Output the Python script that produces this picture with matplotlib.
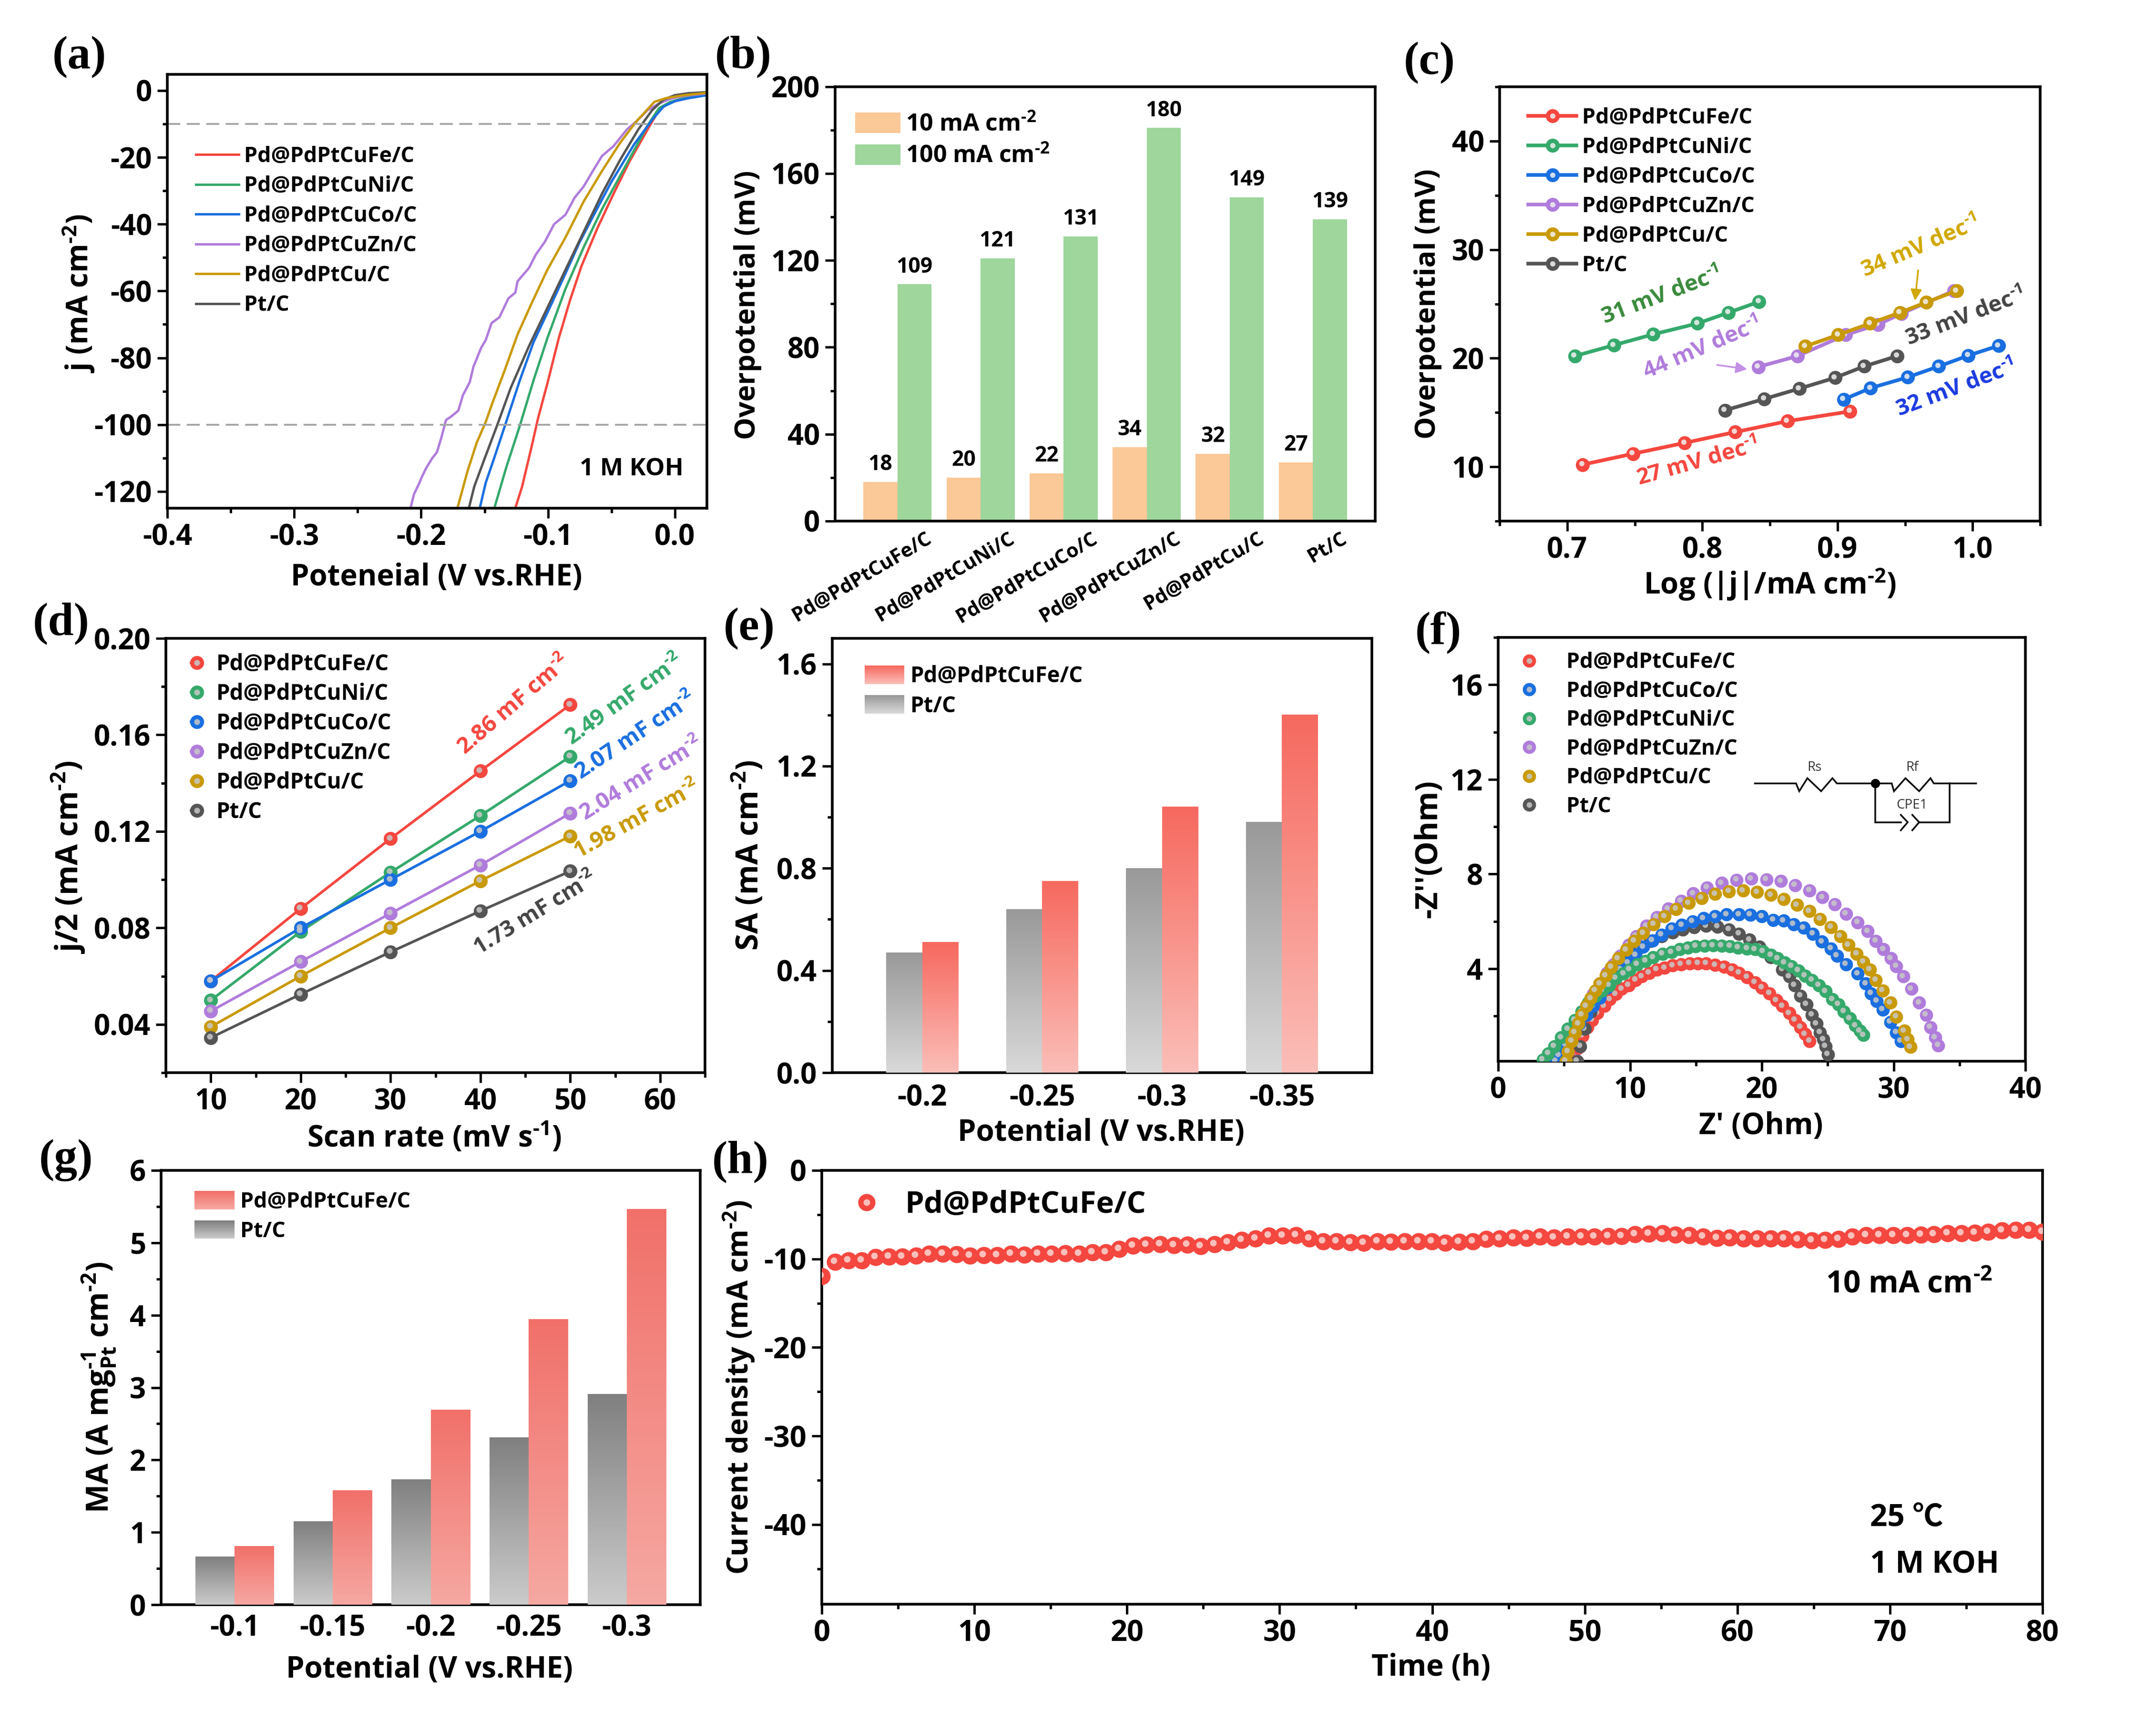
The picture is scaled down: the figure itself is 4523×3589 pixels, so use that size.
import numpy as np
import matplotlib
matplotlib.use('Agg')
import matplotlib.pyplot as plt
from matplotlib import font_manager
from matplotlib.colors import LinearSegmentedColormap, to_rgb
from matplotlib.legend_handler import HandlerBase, HandlerTuple
from matplotlib.patches import Patch, Rectangle
from matplotlib.ticker import MultipleLocator
from matplotlib.transforms import ScaledTranslation, offset_copy

# pick the first family that really ships a bold face
BOLD_FONT = 'Liberation Sans'
for name in ['Noto Sans CJK SC', 'Open Sans', 'Lato', 'Roboto', 'Inter', 'Liberation Sans']:
    if any(f.name == name and int(f.weight if str(f.weight).isdigit() else 700 if f.weight == 'bold' else 400) >= 700
           for f in font_manager.fontManager.ttflist):
        BOLD_FONT = name
        break

plt.rcParams['font.family'] = [BOLD_FONT, 'Noto Sans CJK SC', 'DejaVu Sans']
plt.rcParams['font.weight'] = 'bold'
plt.rcParams['mathtext.fontset'] = 'custom'
plt.rcParams['mathtext.rm'] = BOLD_FONT + ':bold'
plt.rcParams['mathtext.bf'] = BOLD_FONT + ':bold'
plt.rcParams['mathtext.it'] = BOLD_FONT + ':bold'
plt.rcParams['mathtext.default'] = 'rm'

W, H = 4523, 3589

# colours
RED = '#F4473F'
GREEN = '#35A96B'
BLUE = '#1A6FE0'
PURPLE = '#B07CDC'
GOLD = '#C99A08'
DARK = '#555555'

FE, NI, CO, ZN, CU, PT = ('Pd@PdPtCuFe/C', 'Pd@PdPtCuNi/C', 'Pd@PdPtCuCo/C',
                          'Pd@PdPtCuZn/C', 'Pd@PdPtCu/C', 'Pt/C')
SUP2 = r'$^{\text{-2}}$'
SUP1 = r'$^{\text{-1}}$'

# (a) LSV curves
a_fe_x = [-.1258, -.1204, -.1132, -.1078, -.1006, -.0916, -.0827, -.0737, -.0611, -.0485, -.0359, -.0198, -.0126, -.0054, .0072, .0252]
a_fe_y = [-125, -118.5, -107, -98, -87.8, -74.2, -62.8, -52.6, -41.2, -31, -21.3, -10.5, -5.9, -3.9, -2.3, -1.1]
a_ni_x = [-.1423, -.1330, -.1222, -.1114, -.1006, -.0863, -.0719, -.0575, -.0395, -.0216, -.0126, -.0036, .0072, .0252]
a_ni_y = [-125, -112.9, -100.3, -86.7, -74.2, -59.4, -46.9, -35.5, -23, -10.5, -5.3, -3.4, -2.3, -1.1]
a_co_x = [-.1538, -.1491, -.1419, -.1330, -.1222, -.1114, -.0988, -.0863, -.0755, -.0647, -.0503, -.0323, -.018, -.009, 0, .0108, .0252]
a_co_y = [-125, -117.4, -109.4, -99.2, -86.7, -75.3, -65.1, -54.8, -45.7, -37.8, -27.5, -16.2, -8.8, -4.8, -3.2, -2.3, -1.4]
a_zn_x = [-.2084, -.2056, -.2013, -.1995, -.1959, -.1912, -.1876, -.184, -.1804, -.1761, -.1707, -.1671, -.1617, -.1588, -.1527, -.1491, -.1445, -.1384, -.1312, -.1258, -.124, -.115, -.1096, -.1024, -.0952, -.0863, -.0791, -.0719, -.0647, -.0575, -.0485, -.0377, -.0305, -.0216, -.0126, -.0036, .0072, .0252]
a_zn_y = [-125, -120.8, -117.4, -115.7, -112.9, -110, -108.3, -103.8, -98.6, -97.5, -95.8, -91.2, -87.3, -82.7, -77, -74.7, -69.6, -67.9, -62.2, -60.5, -57.1, -53.1, -49.1, -45.2, -40, -37.2, -32.1, -28.7, -24.1, -19.6, -16.7, -11.6, -9.3, -5.9, -3.9, -2.5, -1.6, -.9]
a_cu_x = [-.1714, -.1635, -.1563, -.1491, -.1438, -.1348, -.124, -.1132, -.1006, -.0863, -.0719, -.0575, -.0431, -.0305, -.0162, -.0072, .0072, .0252]
a_cu_y = [-125, -114, -105.5, -99.2, -93.5, -84.4, -73, -63.9, -53.7, -44, -33.2, -24.1, -15.6, -9.3, -3.4, -2.3, -1.4, -.7]
a_pt_x = [-.1624, -.1581, -.1509, -.1402, -.1294, -.115, -.1006, -.0863, -.0719, -.0575, -.0431, -.0288, -.018, -.009, 0, .0108, .0252]
a_pt_y = [-125, -118.5, -111.1, -100.3, -89, -76.5, -65.1, -53.7, -42.3, -30.9, -20.7, -11.6, -5.9, -2.7, -1.4, -.8, -.5]

# (b) overpotential bars
b_names = [FE, NI, CO, ZN, CU, PT]
b_10 = [18, 20, 22, 34, 31, 27]
b_100 = [109, 121, 131, 181, 149, 139]
b_10_labels = ['18', '20', '22', '34', '32', '27']
b_100_labels = ['109', '121', '131', '180', '149', '139']

# (c) Tafel
c_fe_x = [.7115, .7487, .7869, .8244, .863, .9093]
c_fe_y = [10.2, 11.2, 12.2, 13.2, 14.2, 15.1]
c_ni_x = [.7057, .7345, .7636, .7964, .8194, .842]
c_ni_y = [20.2, 21.2, 22.2, 23.2, 24.2, 25.2]
c_co_x = [.9046, .9245, .952, .975, .9969, 1.0192]
c_co_y = [16.2, 17.25, 18.25, 19.25, 20.25, 21.15]
c_zn_x = [.8414, .8704, .906, .93, .9472, .986]
c_zn_y = [19.2, 20.2, 22.15, 23.1, 24.1, 26.2]
c_cu_x = [.8762, .9005, .9242, .9462, .9658, .9881]
c_cu_y = [21.1, 22.15, 23.2, 24.2, 25.15, 26.2]
c_pt_x = [.8167, .8458, .8718, .8982, .9198, .9442]
c_pt_y = [15.2, 16.25, 17.2, 18.2, 19.25, 20.2]

# (d) double layer
d_scan = [10, 20, 30, 40, 50]
d_fe = [.058, .088, .117, .145, .1725]
d_ni = [.05, .0785, .103, .1265, .151]
d_co = [.058, .08, .1, .12, .141]
d_zn = [.0455, .066, .086, .106, .1275]
d_cu = [.039, .06, .08, .0995, .118]
d_pt = [.0345, .0525, .07, .087, .1035]

# (e) specific activity
e_pot = ['-0.2', '-0.25', '-0.3', '-0.35']
e_pt = [.47, .64, .80, .98]
e_fe = [.51, .75, 1.04, 1.40]

# (f) Nyquist
f_fe_x = [23.63, 23.29, 22.94, 22.53, 22.08, 21.56, 21.11, 20.59, 20.0, 19.48, 18.89, 18.27, 17.75, 17.13, 16.47, 15.78, 15.16, 14.53, 13.88, 13.25, 12.63, 12.04, 11.45, 10.9, 10.42, 9.9, 9.38, 8.93, 8.48, 8.06, 7.54, 7.13, 6.75, 6.4, 6.06, 5.81]
f_fe_y = [.94, 1.24, 1.53, 1.83, 2.12, 2.42, 2.67, 2.96, 3.2, 3.42, 3.64, 3.82, 3.96, 4.08, 4.16, 4.23, 4.23, 4.23, 4.19, 4.14, 4.04, 3.96, 3.82, 3.67, 3.52, 3.3, 3.15, 2.93, 2.71, 2.42, 2.12, 1.83, 1.53, 1.16, .65, .1]
f_co_x = [30.55, 30.21, 29.76, 29.17, 28.72, 28.3, 27.89, 27.27, 26.4, 25.71, 25.26, 24.57, 23.88, 23.18, 22.42, 21.66, 20.87, 20.0, 19.13, 18.27, 17.34, 16.47, 15.57, 14.74, 13.94, 13.18, 12.39, 11.7, 11.0, 10.42, 9.86, 9.27, 8.75, 8.24, 7.72, 7.2, 6.68, 6.16, 5.64, 5.12, 4.6, 4.36]
f_co_y = [.94, 1.31, 1.75, 2.27, 2.64, 2.96, 3.37, 3.79, 4.19, 4.55, 4.85, 5.14, 5.48, 5.73, 5.88, 6.03, 6.06, 6.21, 6.28, 6.29, 6.29, 6.21, 6.13, 6.0, 5.85, 5.7, 5.44, 5.19, 4.92, 4.58, 4.26, 3.96, 3.6, 3.2, 2.78, 2.42, 2.05, 1.68, 1.24, .79, .35, .1]
f_ni_x = [27.72, 27.44, 27.09, 26.68, 26.23, 25.81, 25.36, 24.84, 24.33, 23.81, 23.29, 22.77, 22.25, 21.73, 21.21, 20.69, 20.1, 19.48, 18.89, 18.2, 17.58, 16.96, 16.3, 15.67, 14.98, 14.39, 13.77, 13.15, 12.46, 11.76, 11.18, 10.55, 9.97, 9.52, 8.93, 8.41, 7.89, 7.37, 6.85, 6.33, 5.81, 5.29, 4.78, 4.26, 3.81, 3.39]
f_ni_y = [1.19, 1.38, 1.6, 1.9, 2.19, 2.49, 2.71, 3.05, 3.3, 3.52, 3.7, 3.92, 4.11, 4.26, 4.44, 4.58, 4.73, 4.82, 4.85, 4.89, 4.95, 4.97, 4.98, 4.97, 4.95, 4.88, 4.82, 4.7, 4.63, 4.48, 4.33, 4.19, 3.96, 3.79, 3.6, 3.3, 3.08, 2.86, 2.56, 2.19, 1.83, 1.46, 1.09, .72, .42, .16]
f_zn_x = [33.39, 33.15, 32.80, 32.46, 31.94, 31.35, 30.73, 30.21, 29.79, 29.24, 28.65, 28.03, 27.27, 26.40, 25.54, 24.60, 23.63, 22.53, 21.45, 20.35, 19.2, 18.1, 16.96, 15.85, 14.81, 13.88, 12.91, 12.04, 11.25, 10.48, 9.9, 9.27, 8.75, 8.24, 7.72, 7.2, 6.68, 6.33, 6.09, 5.88, 5.74]
f_zn_y = [.76, 1.09, 1.53, 2.05, 2.56, 3.15, 3.67, 4.11, 4.44, 4.82, 5.17, 5.59, 5.96, 6.32, 6.72, 7.02, 7.31, 7.53, 7.70, 7.77, 7.80, 7.75, 7.62, 7.43, 7.18, 6.87, 6.53, 6.18, 5.81, 5.37, 5.0, 4.55, 4.19, 3.82, 3.37, 2.93, 2.42, 1.9, 1.31, .57, .1]
f_cu_x = [31.28, 31.07, 30.8, 30.21, 29.76, 29.17, 28.65, 28.2, 27.72, 27.2, 26.57, 25.95, 25.26, 24.43, 23.6, 22.66, 21.66, 20.69, 19.65, 18.58, 17.51, 16.47, 15.43, 14.46, 13.5, 12.63, 11.8, 11.0, 10.31, 9.72, 9.1, 8.58, 8.17, 7.72, 7.37, 7.02, 6.68, 6.33, 6.09, 5.81, 5.57, 5.29, 5.12]
f_cu_y = [.69, 1.01, 1.38, 1.97, 2.56, 3.08, 3.52, 3.96, 4.29, 4.63, 5.0, 5.37, 5.76, 6.1, 6.43, 6.69, 6.94, 7.12, 7.24, 7.3, 7.27, 7.16, 6.99, 6.77, 6.52, 6.21, 5.88, 5.51, 5.17, 4.8, 4.44, 4.07, 3.71, 3.37, 3.08, 2.75, 2.42, 2.05, 1.68, 1.31, .94, .5, .1]
f_pt_x = [25.02, 24.84, 24.67, 24.43, 24.15, 23.81, 23.39, 22.94, 22.49, 22.08, 21.56, 20.69, 19.83, 19.07, 18.27, 17.51, 16.64, 15.78, 14.88, 14.01, 13.25, 12.39, 11.52, 10.73, 9.97, 9.27, 8.58, 8.06, 7.54, 7.02, 6.57, 6.23, 5.99]
f_pt_y = [.38, .72, 1.01, 1.31, 1.68, 2.05, 2.49, 2.86, 3.3, 3.67, 3.96, 4.48, 4.92, 5.22, 5.48, 5.66, 5.78, 5.81, 5.76, 5.66, 5.54, 5.37, 5.17, 4.88, 4.55, 4.19, 3.74, 3.3, 2.78, 2.19, 1.46, .72, .1]

# (g) mass activity
g_pot = ['-0.1', '-0.15', '-0.2', '-0.25', '-0.3']
g_pt = [.66, 1.15, 1.73, 2.31, 2.91]
g_fe = [.81, 1.58, 2.69, 3.94, 5.46]

# (h) stability
h_t = [0, .87, 1.76, 2.63, 3.52, 4.39, 5.28, 6.18, 7.04, 7.94, 8.84, 9.73, 10.63, 11.49, 12.39, 13.28, 14.18, 15.07, 15.97, 16.87, 17.73, 18.63, 19.49, 20.39, 21.28, 22.18, 23.07, 23.97, 24.84, 25.73, 26.63, 27.52, 28.42, 29.31, 30.21, 31.07, 31.97, 32.87, 33.73, 34.63, 35.52, 36.42, 37.31, 38.21, 39.1,
       39.97, 40.87, 41.76, 42.66, 43.53, 44.42, 45.32, 46.19, 47.09, 47.98, 48.88, 49.78, 50.64, 51.54, 52.41, 53.3, 54.2, 55.1, 55.96, 56.86, 57.76, 58.65, 59.52, 60.42, 61.32, 62.21, 63.08, 63.98, 64.87, 65.77, 66.64, 67.53, 68.43, 69.33, 70.22, 71.12, 72.02, 72.88, 73.78, 74.68, 75.55, 76.44, 77.34, 78.24, 79.13, 80]
h_j = [-11.96, -10.35, -10.2, -10.15, -9.8, -9.73, -9.73, -9.65, -9.4, -9.4, -9.5, -9.65, -9.57, -9.6, -9.44, -9.53, -9.44, -9.4, -9.36, -9.44, -9.28, -9.28, -8.87, -8.5, -8.41, -8.37, -8.45, -8.41, -8.54, -8.37, -8.12, -7.84, -7.71, -7.38, -7.38, -7.34, -7.71, -8.0, -8.0, -8.12, -8.16, -8.04, -8.08, -8.0, -8.04,
       -8.0, -8.16, -8.08, -8.0, -7.75, -7.71, -7.59, -7.67, -7.5, -7.59, -7.5, -7.5, -7.5, -7.42, -7.42, -7.22, -7.18, -7.09, -7.26, -7.34, -7.5, -7.63, -7.59, -7.71, -7.71, -7.71, -7.71, -7.79, -7.92, -7.88, -7.75, -7.5, -7.34, -7.34, -7.34, -7.3, -7.26, -7.22, -7.13, -7.09, -7.05, -6.97, -6.76, -6.72, -6.72, -6.93]

fig = plt.figure(figsize=(W / 100, H / 100), dpi=100)
TICK_FS = 43
XLABEL_FS = 44.5
LEG_FS = 32.3


def make_axes(l, r, t, b):
    ax = fig.add_axes([l / W, 1 - b / H, (r - l) / W, (b - t) / H])
    for s in ax.spines.values():
        s.set_linewidth(4)
    ax.tick_params(which='major', length=15, width=3.6, labelsize=TICK_FS, pad=8)
    ax.tick_params(which='minor', length=7, width=3.6)
    return ax


def axis_labels(ax, xlabel, ylabel, xpos, ypos, yfs):
    if xlabel:
        ax.set_xlabel(xlabel, fontsize=XLABEL_FS, fontweight='bold', va='center', ha='center')
        ax.xaxis.set_label_coords(*xpos)
    ax.set_ylabel(ylabel, fontsize=yfs, fontweight='bold', va='center', ha='center')
    ax.yaxis.set_label_coords(*ypos)


def balls(ax, x, y, color, ms, z, line=0, hi='#C8C8C8', hi_ms=None, shift=2.5):
    # shaded sphere look: a coloured marker with a paler spot on top
    hi_ms = hi_ms or ms * 0.42
    ls = '-' if line else 'none'
    base, = ax.plot(x, y, ls=ls, lw=line, color=color, marker='o', ms=ms, mew=0, zorder=z)
    tr = offset_copy(ax.transData, fig=fig, x=-shift, y=shift, units='dots')
    spot, = ax.plot(x, y, ls='none', marker='o', ms=hi_ms, mfc=hi, mew=0, alpha=0.85, zorder=z + 0.5, transform=tr)
    return (base, spot)


def gradient_bars(ax, x, h, width, top, bottom):
    cmap = LinearSegmentedColormap.from_list('g', [top, bottom])
    bars = ax.bar(x, h, width, color=bottom, zorder=2)
    for b in bars:
        ax.imshow(np.linspace(0, 1, 128).reshape(-1, 1), cmap=cmap, aspect='auto', zorder=3,
                  extent=(b.get_x(), b.get_x() + b.get_width(), 0, b.get_height()))


class GradKey(HandlerBase):
    def __init__(self, top, bottom):
        super().__init__()
        self.top, self.bottom = np.array(to_rgb(top)), np.array(to_rgb(bottom))

    def create_artists(self, legend, orig, xd, yd, w, h, fs, trans):
        out = []
        n = 24
        for i in range(n):
            c = self.bottom + (self.top - self.bottom) * i / (n - 1)
            out.append(Rectangle((-xd, -yd + h * i / n), w, h / n + 0.3, fc=c, ec='none', transform=trans))
        return out


def make_legend(ax, handles, labels, anchor, fs=LEG_FS, hmap=None, **kw):
    leg_map = {tuple: HandlerTuple(ndivide=1, pad=0)}
    if hmap:
        leg_map.update(hmap)
    ax.legend(handles, labels, loc='upper left', bbox_to_anchor=anchor, frameon=False, borderpad=0,
              borderaxespad=0, numpoints=1, fontsize=fs, handler_map=leg_map, **kw)


# ---- (a)
ax = make_axes(351, 1483, 155.5, 1066)
a_lines = {}
for name, x, y, c in [(FE, a_fe_x, a_fe_y, RED), (NI, a_ni_x, a_ni_y, GREEN), (CO, a_co_x, a_co_y, BLUE),
                      (ZN, a_zn_x, a_zn_y, PURPLE), (PT, a_pt_x, a_pt_y, DARK), (CU, a_cu_x, a_cu_y, GOLD)]:
    a_lines[name], = ax.plot(x, y, color=c, lw=3.6)
ax.axhline(-10, color='#A6A6A6', lw=2.8, ls=(0, (7, 3.5)))
ax.axhline(-100, color='#A6A6A6', lw=2.8, ls=(0, (7, 3.5)))
ax.set_xlim(-0.4, 0.0252)
ax.set_ylim(-125, 4.9)
ax.xaxis.set_minor_locator(MultipleLocator(0.05))
ax.yaxis.set_minor_locator(MultipleLocator(10))
ax.set_xticks([-0.4, -0.3, -0.2, -0.1, 0.0])
ax.set_xticklabels(['-0.4', '-0.3', '-0.2', '-0.1', '0.0'])
ax.set_yticks([-120, -100, -80, -60, -40, -20, 0])
ax.set_yticklabels(['-120', '-100', '-80', '-60', '-40', '-20', '0'])
order = [FE, NI, CO, ZN, CU, PT]
make_legend(ax, [a_lines[n] for n in order], order, (0.053, 0.835), handlelength=2.0, handletextpad=0.26, labelspacing=0.39)
ax.text(0.86, 0.09, '1 M KOH', transform=ax.transAxes, ha='center', va='center', fontsize=37)
axis_labels(ax, 'Poteneial (V vs.RHE)', 'j (mA cm' + SUP2 + ')', (0.4987, -0.16), (-0.165, 0.495), 44.5)

# ---- (b)
ax = make_axes(1752, 2885, 181.6, 1093)
xb = np.arange(len(b_names))
bw = 0.41
bars_10 = ax.bar(xb - bw / 2, b_10, bw, color='#FBC897')
bars_100 = ax.bar(xb + bw / 2, b_100, bw, color='#9ED69C')
for x, v, s in zip(xb - bw / 2, b_10, b_10_labels):
    ax.text(x, v + 3, s, ha='center', va='bottom', fontsize=32)
for x, v, s in zip(xb + bw / 2, b_100, b_100_labels):
    ax.text(x, v + 3, s, ha='center', va='bottom', fontsize=32)
ax.set_xlim(-0.75, 5.75)
ax.set_ylim(0, 200)
ax.yaxis.set_major_locator(MultipleLocator(40))
ax.yaxis.set_minor_locator(MultipleLocator(20))
ax.set_xticks(xb)
ax.tick_params(axis='x', length=0, pad=12)
shift = ScaledTranslation(0.58, 0.0, fig.dpi_scale_trans)
ax.set_xticklabels(b_names, rotation=30.5, ha='right', va='top', rotation_mode='anchor', fontsize=30)
for t in ax.get_xticklabels():
    t.set_transform(t.get_transform() + shift)
make_legend(ax, [bars_10, bars_100], ['10 mA cm' + SUP2, '100 mA cm' + SUP2], (0.037, 0.94), fs=36,
            handlelength=1.9, handleheight=0.95, handletextpad=0.23, labelspacing=0.31)
axis_labels(ax, None, 'Overpotential (mV)', None, (-0.162, 0.497), 42.5)

# ---- (c)
ax = make_axes(3146, 4280, 182, 1093)
c_handles = []
for x, y, c, z in [(c_fe_x, c_fe_y, RED, 3), (c_ni_x, c_ni_y, GREEN, 3), (c_co_x, c_co_y, BLUE, 3),
                   (c_zn_x, c_zn_y, PURPLE, 3), (c_cu_x, c_cu_y, GOLD, 4), (c_pt_x, c_pt_y, DARK, 3)]:
    c_handles.append(balls(ax, x, y, c, 21, z, line=5.5, hi='#F0F0F0', hi_ms=8))
ax.set_xlim(0.65, 1.05)
ax.set_ylim(5, 45)
ax.set_xticks([0.7, 0.8, 0.9, 1.0])
ax.xaxis.set_minor_locator(MultipleLocator(0.05))
ax.set_yticks([10, 20, 30, 40])
ax.yaxis.set_minor_locator(MultipleLocator(5))
make_legend(ax, c_handles, [FE, NI, CO, ZN, CU, PT], (0.053, 0.953), handlelength=2.25, handletextpad=0.26, labelspacing=0.38)
c_notes = [('31 mV dec', .7697, 25.7, 20.6, '#3A8A3C'), ('44 mV dec', .80, 20.86, 23, PURPLE),
           ('27 mV dec', .7967, 10.39, 15.7, RED), ('34 mV dec', .9614, 30.2, 23, '#D1A800'),
           ('33 mV dec', .9946, 23.76, 21, '#444444'), ('32 mV dec', .9878, 17.15, 20.6, '#1C3BE0')]
for s, x, y, rot, c in c_notes:
    ax.text(x, y, s + SUP1, color=c, rotation=rot, ha='center', va='center', fontsize=34, rotation_mode='anchor')
ax.annotate('', xy=(.9574, 25.3), xytext=(.9597, 28.1),
            arrowprops=dict(arrowstyle='-|>', color='#D1A800', lw=2.5, mutation_scale=35, shrinkA=0, shrinkB=0))
ax.annotate('', xy=(.8332, 18.99), xytext=(.8109, 19.38),
            arrowprops=dict(arrowstyle='-|>', color='#C48FE6', lw=2.5, mutation_scale=35, shrinkA=0, shrinkB=0))
axis_labels(ax, 'Log (|j|/mA cm' + SUP2 + ')', 'Overpotential (mV)', (0.5, -0.145), (-0.133, 0.5), 42.7)

# ---- (d)
ax = make_axes(348, 1479, 1339, 2250)
d_handles = []
for y, c in [(d_fe, RED), (d_ni, GREEN), (d_co, BLUE), (d_zn, PURPLE), (d_cu, GOLD), (d_pt, DARK)]:
    d_handles.append(balls(ax, d_scan, y, c, 21, 3, line=4))
ax.set_xlim(5, 65)
ax.set_ylim(0.02, 0.20)
ax.set_xticks([10, 20, 30, 40, 50, 60])
ax.xaxis.set_minor_locator(MultipleLocator(5))
ax.set_yticks([0.04, 0.08, 0.12, 0.16, 0.20])
ax.set_yticklabels(['0.04', '0.08', '0.12', '0.16', '0.20'])
ax.yaxis.set_minor_locator(MultipleLocator(0.02))
make_legend(ax, d_handles, [FE, NI, CO, ZN, CU, PT], (0.047, 0.966), fs=32.8, handlelength=0.5, handletextpad=0.65, labelspacing=0.33)
d_notes = [('2.86', 43.69, .1725, 40.6, RED), ('2.49', 56.05, .1744, 35.7, GREEN), ('2.07', 57.26, .1595, 33.7, BLUE),
           ('2.04', 57.9, .1418, 31.6, PURPLE), ('1.98', 57.4, .1247, 28.8, GOLD), ('1.73', 46.07, .0859, 31.4, '#444444')]
for s, x, y, rot, c in d_notes:
    ax.text(x, y, s + ' mF cm' + SUP2, color=c, rotation=rot, ha='center', va='center', fontsize=34, rotation_mode='anchor')
axis_labels(ax, 'Scan rate (mV s' + SUP1 + ')', 'j/2 (mA cm' + SUP2 + ')', (0.498, -0.15), (-0.181, 0.496), 46)

# ---- (e)
ax = make_axes(1746, 2878, 1339, 2250)
xe = np.arange(len(e_pot))
gradient_bars(ax, xe - 0.15, e_pt, 0.3, '#999999', '#D9D9D9')
gradient_bars(ax, xe + 0.15, e_fe, 0.3, '#F6695F', '#FBBEB8')
ax.set_xlim(-0.75, 3.75)
ax.set_ylim(0, 1.7)
ax.set_xticks(xe)
ax.set_xticklabels(e_pot)
ax.tick_params(axis='x', length=0, pad=17)
ax.set_yticks([0, 0.4, 0.8, 1.2, 1.6])
ax.yaxis.set_minor_locator(MultipleLocator(0.2))
pf, pp = Patch(), Patch()
make_legend(ax, [pf, pp], [FE, PT], (0.06, 0.938), fs=32.8,
            hmap={pf: GradKey('#F6695F', '#FBBEB8'), pp: GradKey('#999999', '#D9D9D9')},
            handlelength=1.83, handleheight=0.92, handletextpad=0.28, labelspacing=0.33)
axis_labels(ax, 'Potential (V vs.RHE)', 'SA (mA cm' + SUP2 + ')', (0.498, -0.139), (-0.154, 0.5), 46)

# ---- (f)
ax = make_axes(3143, 4249, 1337, 2225.6)
f_series = {ZN: (f_zn_x, f_zn_y, PURPLE), FE: (f_fe_x, f_fe_y, RED), PT: (f_pt_x, f_pt_y, DARK),
            CO: (f_co_x, f_co_y, BLUE), NI: (f_ni_x, f_ni_y, GREEN), CU: (f_cu_x, f_cu_y, GOLD)}
f_handles = {}
for i, (name, (x, y, c)) in enumerate(f_series.items()):
    f_handles[name] = balls(ax, x, y, c, 20, 3 + i)
ax.set_xlim(0, 40)
ax.set_ylim(0.1, 18)
ax.xaxis.set_major_locator(MultipleLocator(10))
ax.xaxis.set_minor_locator(MultipleLocator(5))
ax.set_yticks([4, 8, 12, 16])
ax.yaxis.set_minor_locator(MultipleLocator(2))
f_order = [FE, CO, NI, ZN, CU, PT]
make_legend(ax, [f_handles[n] for n in f_order], f_order, (0.048, 0.966), fs=32, handlelength=0.52, handletextpad=1.5, labelspacing=0.35)
# equivalent circuit
cw = dict(color='#111111', lw=2.6, solid_joinstyle='miter')
ax.plot([19.48, 22.6, 22.84, 23.46, 24.5, 25.36, 25.7, 28.6, 29.86, 30.03, 30.9, 31.94, 32.8, 33.05, 36.26],
        [11.83, 11.83, 11.5, 12.05, 11.5, 12.05, 11.83, 11.83, 11.83, 11.5, 12.05, 11.5, 12.05, 11.83, 11.83], **cw)
ax.plot([28.6, 28.6, 30.55], [11.83, 10.19, 10.19], **cw)
ax.plot([31.94, 34.26, 34.26], [10.19, 10.19, 11.83], **cw)
ax.plot([30.55, 31.07, 30.55], [10.5, 10.19, 9.85], **cw)
ax.plot([31.42, 31.94, 31.42], [10.5, 10.19, 9.85], **cw)
ax.plot([28.6], [11.83], 'o', color='black', ms=13)
for s, x, y in [('Rs', 24.0, 12.5), ('Rf', 31.4, 12.5), ('CPE1', 31.4, 10.9)]:
    ax.text(x, y, s, ha='center', va='center', fontsize=20, fontweight='normal', color='#333333')
axis_labels(ax, "Z' (Ohm)", "-Z''(Ohm)", (0.498, -0.154), (-0.131, 0.5), 46)

# ---- (g)
ax = make_axes(338, 1469, 2455, 3366)
xg = np.arange(len(g_pot))
gradient_bars(ax, xg - 0.2, g_pt, 0.4, '#808080', '#CBCBCB')
gradient_bars(ax, xg + 0.2, g_fe, 0.4, '#F1706A', '#F6A8A2')
ax.set_xlim(-0.75, 4.75)
ax.set_ylim(0, 6)
ax.set_xticks(xg)
ax.set_xticklabels(g_pot)
ax.tick_params(axis='x', length=0, pad=14)
ax.yaxis.set_major_locator(MultipleLocator(1))
ax.yaxis.set_minor_locator(MultipleLocator(0.5))
pf, pp = Patch(), Patch()
make_legend(ax, [pf, pp], [FE, PT], (0.062, 0.952),
            hmap={pf: GradKey('#F1706A', '#F6A8A2'), pp: GradKey('#808080', '#CBCBCB')},
            handlelength=1.86, handleheight=0.93, handletextpad=0.28, labelspacing=0.36)
axis_labels(ax, 'Potential (V vs.RHE)', r'MA (A mg$^{\text{-1}}_{\text{Pt}}$ cm' + SUP2 + ')', (0.4976, -0.1496), (-0.115, 0.5), 46)

# ---- (h)
ax = make_axes(1724, 4285, 2455, 3365)
h_handle = balls(ax, h_t, h_j, RED, 26, 3, hi='#FBD5D2', hi_ms=10, shift=3)
ax.set_xlim(0, 80)
ax.set_ylim(-49, 0)
ax.xaxis.set_major_locator(MultipleLocator(10))
ax.xaxis.set_minor_locator(MultipleLocator(5))
ax.set_yticks([-40, -30, -20, -10, 0])
ax.set_yticklabels(['-40', '-30', '-20', '-10', '0'])
ax.yaxis.set_minor_locator(MultipleLocator(5))
ax.tick_params(which='major', labelsize=44)
make_legend(ax, [h_handle], [FE], (0.03, 0.955), fs=45.7, handlelength=0.54, handletextpad=1.0)
ax.text(65.8, -12.9, '10 mA cm' + SUP2, ha='left', va='center', fontsize=46)
ax.text(68.7, -39.3, '25 ℃', ha='left', va='center', fontsize=46)
ax.text(68.7, -44.6, '1 M KOH', ha='left', va='center', fontsize=46)
axis_labels(ax, 'Time (h)', 'Current density (mA cm' + SUP2 + ')', (0.499, -0.147), (-0.068, 0.5), 44)

# panel letters
for s, x, y in [('(a)', 110, 143), ('(b)', 1500, 142), ('(c)', 2945, 155), ('(d)', 69, 1331),
                ('(e)', 1518, 1342), ('(f)', 2969, 1351), ('(g)', 82, 2457), ('(h)', 1494, 2460)]:
    fig.text(x / W, 1 - y / H, s, family='Liberation Serif', fontweight='bold', fontsize=70, ha='left', va='baseline')

fig.savefig('out.png', dpi=100)
